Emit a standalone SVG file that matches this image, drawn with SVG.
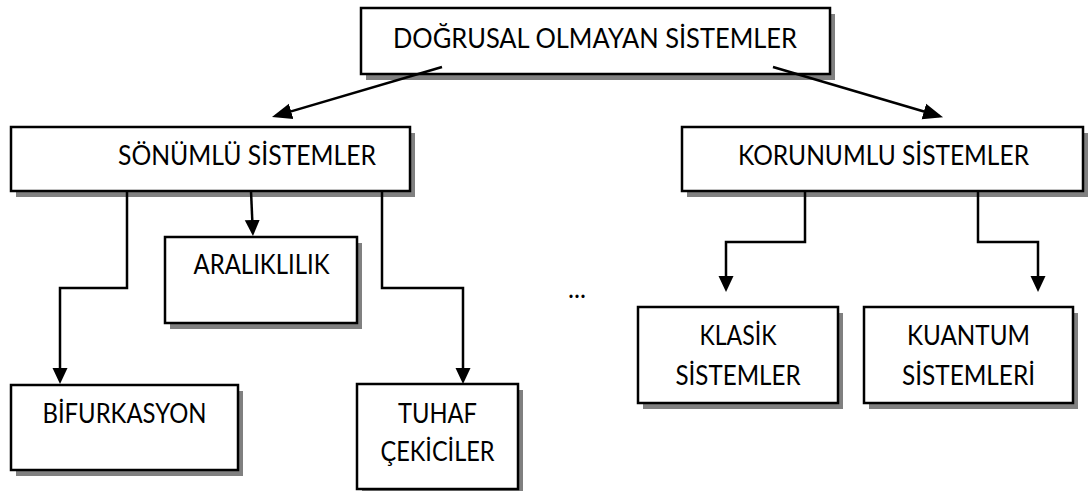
<svg xmlns="http://www.w3.org/2000/svg" width="1089" height="491" viewBox="0 0 1089 491">
  <style>
    .shadow { fill: #808080; stroke: none; }
    .box { fill: #ffffff; stroke: #000000; stroke-width: 2.5; }
    .lbl { font-family: Lato, "Liberation Sans", sans-serif; font-size: 26px; fill: #000000; text-anchor: middle; }
    .conn { fill: none; stroke: #000000; stroke-width: 2.5; }
  </style>
  <defs>
    <marker id="arrow" markerUnits="userSpaceOnUse" markerWidth="18" markerHeight="16" refX="12" refY="8" orient="auto" viewBox="0 0 18 16">
      <path d="M0,0.5 L16,8 L0,15.5 Z" fill="#000000"/>
    </marker>
    <marker id="arrow-lg" markerUnits="userSpaceOnUse" markerWidth="22" markerHeight="18" refX="16" refY="9" orient="auto" viewBox="0 0 22 18">
      <path d="M0,1 L20,9 L0,17 Z" fill="#000000"/>
    </marker>
  </defs>
  <rect width="1089" height="491" fill="#ffffff"/>

  <g id="node-top">
    <rect class="shadow" x="366" y="14" width="469" height="66"/>
    <rect class="box" x="361" y="8" width="469" height="66"/>
    <text class="lbl" x="595" y="48" textLength="404" lengthAdjust="spacingAndGlyphs">DOĞRUSAL OLMAYAN SİSTEMLER</text>
  </g>

  <g id="node-sonumlu">
    <rect class="shadow" x="16" y="133" width="399" height="64"/>
    <rect class="box" x="11" y="127" width="399" height="64"/>
    <text class="lbl" x="247" y="165" textLength="258" lengthAdjust="spacingAndGlyphs">SÖNÜMLÜ SİSTEMLER</text>
  </g>

  <g id="node-korunumlu">
    <rect class="shadow" x="687" y="133" width="401" height="64"/>
    <rect class="box" x="682" y="127" width="401" height="64"/>
    <text class="lbl" x="883.5" y="165" textLength="291" lengthAdjust="spacingAndGlyphs">KORUNUMLU SİSTEMLER</text>
  </g>

  <g id="node-araliklilik">
    <rect class="shadow" x="170" y="243" width="192" height="86"/>
    <rect class="box" x="165" y="237" width="192" height="86"/>
    <text class="lbl" x="261.5" y="274" textLength="136" lengthAdjust="spacingAndGlyphs">ARALIKLILIK</text>
  </g>

  <g id="node-bifurkasyon">
    <rect class="shadow" x="16" y="391" width="227" height="85"/>
    <rect class="box" x="11" y="385" width="227" height="85"/>
    <text class="lbl" x="124.5" y="423" textLength="164" lengthAdjust="spacingAndGlyphs">BİFURKASYON</text>
  </g>

  <g id="node-tuhaf">
    <rect class="shadow" x="362" y="390" width="161" height="105"/>
    <rect class="box" x="357" y="384" width="161" height="105"/>
    <text class="lbl" x="437.5" y="423" textLength="79" lengthAdjust="spacingAndGlyphs">TUHAF</text>
    <text class="lbl" x="437.5" y="461" textLength="114" lengthAdjust="spacingAndGlyphs">ÇEKİCİLER</text>
  </g>

  <g id="node-klasik">
    <rect class="shadow" x="643" y="313" width="200" height="96"/>
    <rect class="box" x="638" y="307" width="200" height="96"/>
    <text class="lbl" x="738" y="345" textLength="77" lengthAdjust="spacingAndGlyphs">KLASİK</text>
    <text class="lbl" x="738" y="385" textLength="125" lengthAdjust="spacingAndGlyphs">SİSTEMLER</text>
  </g>

  <g id="node-kuantum">
    <rect class="shadow" x="869" y="313" width="209" height="96"/>
    <rect class="box" x="864" y="307" width="209" height="96"/>
    <text class="lbl" x="968.5" y="345" textLength="123" lengthAdjust="spacingAndGlyphs">KUANTUM</text>
    <text class="lbl" x="968.5" y="385" textLength="133" lengthAdjust="spacingAndGlyphs">SİSTEMLERİ</text>
  </g>

  <g id="ellipsis">
    <text x="568" y="298" font-family="Lato, 'Liberation Sans', sans-serif" font-size="26" textLength="18" lengthAdjust="spacingAndGlyphs">...</text>
  </g>

  <g id="connectors">
    <path class="conn" d="M442,67 L275.8,115.9" marker-end="url(#arrow-lg)"/>
    <path class="conn" d="M773,67 L939.2,116" marker-end="url(#arrow-lg)"/>
    <path class="conn" d="M127,191 V288 H60 V380" marker-end="url(#arrow)"/>
    <path class="conn" d="M251,191 L252.8,232" marker-end="url(#arrow)"/>
    <path class="conn" d="M382,191 V288 H463 V380" marker-end="url(#arrow)"/>
    <path class="conn" d="M805,191 V242 H726 V288" marker-end="url(#arrow)"/>
    <path class="conn" d="M978,191 V242 H1038 V288" marker-end="url(#arrow)"/>
  </g>
</svg>
